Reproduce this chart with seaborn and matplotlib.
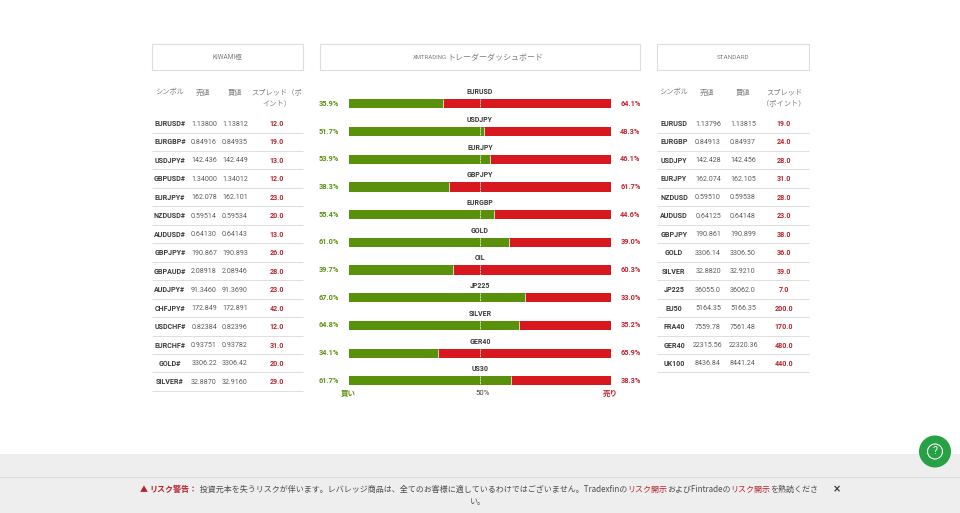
import matplotlib
matplotlib.use("Agg")
import matplotlib.pyplot as plt
from matplotlib.patches import Rectangle, Circle
import seaborn as sns
import numpy as np

sns.set_theme(style="white")
JP = ['Noto Sans CJK JP', 'DejaVu Sans']
plt.rcParams['font.family'] = ['Roboto', 'Noto Sans CJK JP', 'DejaVu Sans']
NARROW = ['Roboto', 'Noto Sans CJK JP', 'DejaVu Sans']

# ---- data ----
pairs = ["EURUSD", "USDJPY", "EURJPY", "GBPJPY", "EURGBP", "GOLD", "OIL", "JP225", "SILVER", "GER40", "US30"]
buy_pct = [35.9, 51.7, 53.9, 38.3, 55.4, 61.0, 39.7, 67.0, 64.8, 34.1, 61.7]
sell_pct = [64.1, 48.3, 46.1, 61.7, 44.6, 39.0, 60.3, 33.0, 35.2, 65.9, 38.3]

kiwami_sym = ["EURUSD#", "EURGBP#", "USDJPY#", "GBPUSD#", "EURJPY#", "NZDUSD#", "AUDUSD#", "GBPJPY#",
              "GBPAUD#", "AUDJPY#", "CHFJPY#", "USDCHF#", "EURCHF#", "GOLD#", "SILVER#"]
kiwami_sell = ["1.13800", "0.84916", "142.436", "1.34000", "162.078", "0.59514", "0.64130", "190.867",
               "2.08918", "91.3460", "172.849", "0.82384", "0.93751", "3306.22", "32.8870"]
kiwami_buy = ["1.13812", "0.84935", "142.449", "1.34012", "162.101", "0.59534", "0.64143", "190.893",
              "2.08946", "91.3690", "172.891", "0.82396", "0.93782", "3306.42", "32.9160"]
kiwami_spread = ["12.0", "19.0", "13.0", "12.0", "23.0", "20.0", "13.0", "26.0",
                 "28.0", "23.0", "42.0", "12.0", "31.0", "20.0", "29.0"]

std_sym = ["EURUSD", "EURGBP", "USDJPY", "EURJPY", "NZDUSD", "AUDUSD", "GBPJPY", "GOLD",
           "SILVER", "JP225", "EU50", "FRA40", "GER40", "UK100"]
std_sell = ["1.13796", "0.84913", "142.428", "162.074", "0.59510", "0.64125", "190.861", "3306.14",
            "32.8820", "36055.0", "5164.35", "7559.78", "22315.56", "8436.84"]
std_buy = ["1.13815", "0.84937", "142.456", "162.105", "0.59538", "0.64148", "190.899", "3306.50",
           "32.9210", "36062.0", "5166.35", "7561.48", "22320.36", "8441.24"]
std_spread = ["19.0", "24.0", "28.0", "31.0", "28.0", "23.0", "38.0", "36.0",
              "39.0", "7.0", "200.0", "170.0", "480.0", "440.0"]

GREEN = "#5a910b"
RED = "#d7191f"
DARKRED = "#b3262f"
GREY = "#7f7f7f"
DARK = "#3c3c3c"
TXT = "#5c5c5c"

W, H = 960, 513
fig = plt.figure(figsize=(W / 100, H / 100), dpi=100, facecolor="white")

# page overlay in pixel coordinates
page = fig.add_axes([0, 0, 1, 1])
page.set_xlim(0, W)
page.set_ylim(H, 0)
page.axis("off")

# title boxes
for x0, x1 in [(151.6, 302.6), (320.2, 639.6), (656.8, 808.6)]:
    page.add_patch(Rectangle((x0, 44), x1 - x0, 25.5, fc="white", ec="#dddddd", lw=0.8))
page.text(227, 57.5, "KIWAMI極", ha="center", va="center", fontsize=4.7, color=GREY, family=NARROW)
page.text(733, 57.5, "STANDARD", ha="center", va="center", fontsize=4.6, color=GREY, family=NARROW)
page.text(446.5, 57.5, "XMTRADING", ha="right", va="center", fontsize=4.3, color=GREY, family=NARROW)
page.text(447, 57.5, "トレーダーダッシュボード", ha="left", va="center", fontsize=5.8, color=GREY, family=JP)


def table(xs, line, sym, sell, buy, spread, head3):
    y0, step = 124.0, 18.46
    for i, (a, b, c, d) in enumerate(zip(sym, sell, buy, spread)):
        y = y0 + step * i
        page.text(xs[0], y, a, ha="center", va="center", fontsize=5.1, fontweight="bold", color=DARK)
        page.text(xs[1], y, b, ha="center", va="center", fontsize=5.1, color=TXT)
        page.text(xs[2], y, c, ha="center", va="center", fontsize=5.1, color=TXT)
        page.text(xs[3], y, d, ha="center", va="center", fontsize=5.1, fontweight="bold", color=DARKRED)
        page.plot(line, [y + 8.5, y + 8.5], color="#dddddd", lw=0.7, solid_capstyle="butt")
    page.text(xs[0], 92.7, "シンボル", ha="center", va="center", fontsize=5.2, color=GREY, family=JP)
    page.text(xs[1] - 1, 92.7, "売値", ha="center", va="center", fontsize=5.2, color=GREY, family=JP)
    page.text(xs[2], 92.7, "買値", ha="center", va="center", fontsize=5.2, color=GREY, family=JP)
    page.text(xs[3], 92.7, head3[0], ha="center", va="center", fontsize=5.2, color=GREY, family=JP)
    page.text(xs[3], 103.7, head3[1], ha="center", va="center", fontsize=5.2, color=GREY, family=JP)


table([170, 204, 235, 277], [152, 303], kiwami_sym, kiwami_sell, kiwami_buy, kiwami_spread,
      ("スプレッド（ポ", "イント）"))
table([674, 708, 743, 784], [657, 809], std_sym, std_sell, std_buy, std_spread,
      ("スプレッド", "（ポイント）"))

# footer
page.add_patch(Rectangle((0, 454), W, H - 454, fc="#eeeeee", ec="none"))
page.plot([0, W], [476.7, 476.7], color="#dcdcdc", lw=0.8)

fig.canvas.draw()
rend = fig.canvas.get_renderer()
segments = [("▲ ", DARKRED, "bold"), ("リスク警告：", DARKRED, "bold"),
            (" 投資元本を失うリスクが伴います。レバレッジ商品は、全てのお客様に適しているわけではございません。Tradexfinの", "#4d4d4d", "normal"),
            ("リスク開示", DARKRED, "normal"), ("およびFintradeの", "#4d4d4d", "normal"),
            ("リスク開示", DARKRED, "normal"), ("を熟読くださ", "#4d4d4d", "normal")]
xc = 140.0
for s, col, wt in segments:
    t = page.text(xc, 489.8, s, ha="left", va="center", fontsize=5.78, color=col, fontweight=wt, family=JP)
    xc = t.get_window_extent(rend).x1
page.text(478, 501.3, "い。", ha="center", va="center", fontsize=5.78, color="#4d4d4d", family=JP)
page.text(837, 489.5, "×", ha="center", va="center", fontsize=7, fontweight="bold", color="#333333", family=['DejaVu Sans'])

# help button
page.add_patch(Circle((935, 451.5), 16, fc="#26a244", ec="none", zorder=5))
page.add_patch(Circle((935, 451.5), 7.5, fc="none", ec="white", lw=0.8, zorder=6))
page.text(935, 451.5, "?", ha="center", va="center", fontsize=7.5, color="white", zorder=7)

# central stacked bars
left, right = 348.7, 611.3
top, bottom = 103.8 - 13.86, 380.9 + 13.86
ax = fig.add_axes([left / W, 1 - bottom / H, (right - left) / W, (bottom - top) / H], facecolor="none")
totals = [b + s for b, s in zip(buy_pct, sell_pct)]
sns.barplot(x=totals, y=pairs, color=RED, saturation=1, width=0.33, orient="h", ax=ax, zorder=2,
            edgecolor="none", linewidth=0)
sns.barplot(x=buy_pct, y=pairs, color=GREEN, saturation=1, width=0.33, orient="h", ax=ax, zorder=3,
            edgecolor="none", linewidth=0)
ax.set_xlim(0, 100)
ax.set_ylim(len(pairs) - 0.5, -0.5)
ax.axis("off")
ypos = np.arange(len(pairs))
ax.vlines(buy_pct, ypos - 0.165, ypos + 0.165, color="#d8d8c0", lw=0.7, zorder=4)
ax.vlines([50] * len(pairs), ypos - 0.165, ypos + 0.165, color="white", lw=0.5, linestyles=(0, (3, 1)), zorder=5)
for i, name in enumerate(pairs):
    ax.text(50, i - 0.42, name, ha="center", va="center", fontsize=5.0, fontweight="bold",
            color="#3a3a3a", family=NARROW, clip_on=False)
    ax.text(-7.6, i, f"{buy_pct[i]:.1f}%", ha="center", va="center", fontsize=5.3, fontweight="bold",
            color=GREEN, family=NARROW, clip_on=False)
    ax.text(107.3, i, f"{sell_pct[i]:.1f}%", ha="center", va="center", fontsize=5.3, fontweight="bold",
            color="#c4222c", family=NARROW, clip_on=False)
ax.text(0, 10.45, "買い", ha="center", va="center", fontsize=5.4, fontweight="bold", color=GREEN, family=JP, clip_on=False)
ax.text(51.2, 10.45, "50%", ha="center", va="center", fontsize=5.6, color="#444444", clip_on=False)
ax.text(99.5, 10.45, "売り", ha="center", va="center", fontsize=5.4, fontweight="bold", color="#c4222c", family=JP, clip_on=False)

fig.savefig("out.png", dpi=100, facecolor="white")
